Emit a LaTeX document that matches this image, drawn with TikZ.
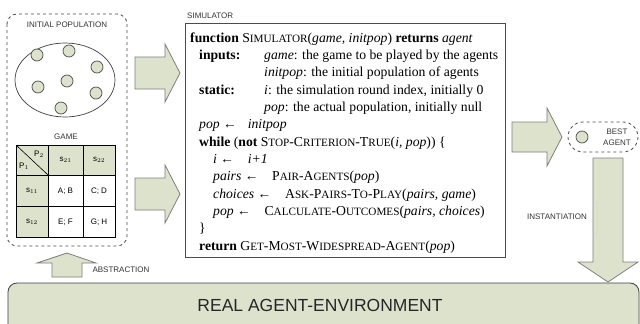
\documentclass[tikz,border=0pt]{standalone}
\usepackage{fontspec}
\setmainfont{Liberation Serif}
\newfontfamily\arialf{Liberation Sans}
\definecolor{olive}{HTML}{DDE2CC}
\definecolor{edge}{HTML}{7F7F7F}
\definecolor{ink}{HTML}{333333}
\newcommand\SCx[2]{#1{\fontsize{11.2}{11.2}\selectfont #2}}
\begin{document}
\begin{tikzpicture}[x=1pt,y=-1pt,
  lbl/.style={font=\arialf\fontsize{8}{9}\selectfont, text=ink, inner sep=0pt},
  cell/.style={font=\arialf\fontsize{8}{9}\selectfont, text=black, inner sep=0pt},
  code/.style={font=\fontsize{13.7}{17}\selectfont, inner sep=0pt, anchor=base west},
  blockarrow/.style={fill=olive, draw=edge, line width=0.8pt, line join=miter},
  agent/.style={circle, minimum size=12pt, inner sep=0pt, fill=olive, draw=black!70, line width=0.7pt},
  dashbox/.style={draw=black!70, dashed, line width=0.8pt}]
\clip (0,0) rectangle (640,324);
\fill[white] (0,0) rectangle (640,324);

% left dashed container
\draw[dashbox, rounded corners=10pt] (7,14) rectangle (127,246);
\node[lbl] (initlbl) at (67,25) {INITIAL POPULATION};
\draw[black!75, line width=0.7pt] (65,80) ellipse [x radius=50, y radius=37];
\node[agent] (p1) at (37,55) {};
\node[agent] (p2) at (69,51) {};
\node[agent] (p3) at (97,67) {};
\node[agent] (p4) at (38,87) {};
\node[agent] (p5) at (67,81) {};
\node[agent] (p6) at (96,93) {};
\node[agent] (p7) at (61,108) {};
\node[lbl] (gamelbl) at (66,137) {GAME};

% game table
\fill[olive] (16,145) rectangle (115,175);
\fill[olive] (16,175) rectangle (48,237);
\draw[black, line width=0.8pt] (16,145) rectangle (115,237);
\draw[black, line width=0.8pt] (48,145) -- (48,237) (83,145) -- (83,237)
  (16,175) -- (115,175) (16,206) -- (115,206);
\draw[black, line width=0.6pt] (16,145) -- (48,175);
\node[cell] (P2) at (39,154) {P$_2$};
\node[cell] (P1) at (24,166) {P$_1$};
\node[cell] (s21) at (65.5,160) {s$_{21}$};
\node[cell] (s22) at (99,160) {s$_{22}$};
\node[cell] (s11) at (32,191) {s$_{11}$};
\node[cell] (s12) at (32,222) {s$_{12}$};
\node[cell] (AB) at (65.5,191) {A; B};
\node[cell] (CD) at (99,191) {C; D};
\node[cell] (EF) at (65.5,222) {E; F};
\node[cell] (GH) at (99,222) {G; H};

% arrows into simulator
\draw[blockarrow] (135,57) -- (165,57) -- (165,44) -- (180,73) -- (165,102) -- (165,89) -- (135,89) -- cycle;
\draw[blockarrow] (135,178) -- (165,178) -- (165,165) -- (180,194) -- (165,223) -- (165,210) -- (135,210) -- cycle;

% simulator
\node[lbl, anchor=west] (simlbl) at (187,16) {SIMULATOR};
\draw[black!70, line width=0.9pt] (185,23) rectangle (505,257);
\node[code] (l1) at (190,42) {\textbf{function} \SCx{S}{IMULATOR}(\textit{game, initpop}) \textbf{returns} \textit{agent}};
\node[code] (l2a) at (199,59.3) {\textbf{inputs:}};
\node[code] (l2b) at (264,59.3) {\textit{game}: the game to be played by the agents};
\node[code] (l3) at (264,76.7) {\textit{initpop}: the initial population of agents};
\node[code] (l4a) at (199,94) {\textbf{static:}};
\node[code] (l4b) at (264,94) {\textit{i}: the simulation round index, initially 0};
\node[code] (l5) at (264,111.3) {\textit{pop}: the actual population, initially null};
\node[code] (l6) at (199,128.7) {\textit{pop} ←\hspace{0.8em}\textit{initpop}};
\node[code] (l7) at (199,146) {\textbf{while} (\textbf{not} \SCx{S}{TOP}-\SCx{C}{RITERION}-\SCx{T}{RUE}(\textit{i, pop})) \{};
\node[code] (l8) at (213,163.3) {\textit{i} ←\hspace{1em}\textit{i+1}};
\node[code] (l9) at (213,180.7) {\textit{pairs} ←\hspace{1em}\SCx{P}{AIR}-\SCx{A}{GENTS}(\textit{pop})};
\node[code] (l10) at (213,198) {\textit{choices} ←\hspace{1em}\SCx{A}{SK}-\SCx{P}{AIRS}-\SCx{T}{O}-\SCx{P}{LAY}(\textit{pairs, game})};
\node[code] (l11) at (213,215.3) {\textit{pop} ←\hspace{1em}\SCx{C}{ALCULATE}-\SCx{O}{UTCOMES}(\textit{pairs, choices})};
\node[code] (l12) at (199,232.7) {\}};
\node[code] (l13) at (199,250) {\textbf{return} \SCx{G}{ET}-\SCx{M}{OST}-\SCx{W}{IDESPREAD}-\SCx{A}{GENT}(\textit{pop})};

% arrow out
\draw[blockarrow] (512,122) -- (547,122) -- (547,108) -- (562,137) -- (547,166) -- (547,152) -- (512,152) -- cycle;

% best agent
\draw[dashbox, rounded corners=15pt] (568,122) rectangle (638,152);
\node[agent] (best) at (582,137) {};
\node[lbl, align=center, font=\arialf\fontsize{8}{10.5}\selectfont] (bestlbl) at (617,137) {BEST\\AGENT};

% instantiation arrow
\draw[blockarrow] (593,158) -- (623,158) -- (623,262) -- (638,262) -- (608,282) -- (578,262) -- (593,262) -- cycle;
\draw[black!15, line width=0.6pt] (594,202) -- (597,202) -- (597,233) -- (594,233);
\node[lbl] (instlbl) at (557,217) {INSTANTIATION};

% abstraction arrow
\draw[blockarrow] (52,277) -- (52,263) -- (37,263) -- (67,253) -- (96,263) -- (82,263) -- (82,277) -- cycle;
\node[lbl] (abslbl) at (121,270) {ABSTRACTION};

% real environment bar
\draw[fill=olive, draw=black!75, line width=0.8pt, rounded corners=9pt] (8,340) -- (8,283) -- (639,283) -- (639,340);
\node[font=\arialf\fontsize{17.5}{20}\selectfont, text=black!85, inner sep=0pt] (real) at (320,305) {REAL AGENT-ENVIRONMENT};
\end{tikzpicture}
\end{document}
